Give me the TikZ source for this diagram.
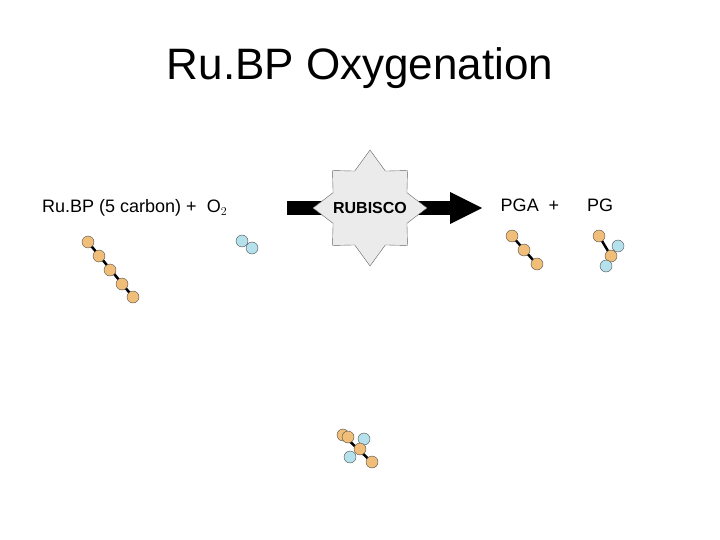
\documentclass[tikz,border=0pt]{standalone}
\usepackage{fontspec}
\setmainfont{Liberation Sans}
\usetikzlibrary{calc}
\definecolor{carb}{RGB}{240,190,120}
\definecolor{oxy}{RGB}{180,225,235}
\definecolor{starfill}{RGB}{235,235,235}
\tikzstyle{C} = [circle, draw=black!70, fill=carb, minimum size=12pt, inner sep=0pt]
\tikzstyle{O} = [circle, draw=black!70, fill=oxy, minimum size=12pt, inner sep=0pt]
\tikzstyle{bond} = [line width=2.5pt, black]
\tikzstyle{lbl} = [font=\fontsize{18}{21}\selectfont]
\begin{document}
\begin{tikzpicture}[x=1pt,y=-1pt]
	\useasboundingbox (0,0) rectangle (720,540);
	\node (title) at (360,68) {\fontsize{44}{50}\selectfont Ru.BP Oxygenation};
	\node (rubp) [lbl, anchor=west, inner sep=0pt] at (42,208) {Ru.BP (5 carbon) +\ \ O$_2$};
	\node (pga) [lbl] at (530,205) {PGA\ \ +};
	\node (pg) [lbl] at (600,205) {PG};
	% arrow with enzyme
	\fill (287,201) rectangle (450,215);
	\fill (450,192) -- (482,208) -- (450,224) -- cycle;
	\coordinate (c) at (370,208);
	\draw [black!60, fill=starfill] ($(c)+(0:57)$) -- ($(c)+(22.5:40)$) -- ($(c)+(45:53)$) -- ($(c)+(67.5:40)$)
		-- ($(c)+(90:58)$) -- ($(c)+(112.5:40)$) -- ($(c)+(135:53)$) -- ($(c)+(157.5:40)$)
		-- ($(c)+(180:57)$) -- ($(c)+(202.5:40)$) -- ($(c)+(225:53)$) -- ($(c)+(247.5:40)$)
		-- ($(c)+(270:58)$) -- ($(c)+(292.5:40)$) -- ($(c)+(315:53)$) -- ($(c)+(337.5:40)$) -- cycle;
	\node (enz) [font=\fontsize{16}{19}\selectfont\bfseries] at (c) {RUBISCO};
	% RuBP chain
	\draw [bond] (88,242) -- (133,297);
	\foreach \i/\x/\y in {1/88/242, 2/99/256, 3/110/270, 4/122/284, 5/133/297}
		\node (r\i) [C] at (\x,\y) {};
	% O2
	\node (o1) [O] at (242,241) {};
	\node (o2) [O] at (252,248) {};
	% PGA
	\draw [bond] (512,236) -- (540,268);
	\foreach \i/\x/\y in {1/512/236, 2/524/250, 3/537/264}
		\node (a\i) [C] at (\x,\y) {};
	% PG
	\draw [bond] (599,236) -- (611,256);
	\node (g1) [C] at (599,236) {};
	\node (g2) [O] at (618,246) {};
	\node (g3) [C] at (611,256) {};
	\node (g4) [O] at (606,266) {};
	% product complex
	\draw [bond] (343,435) -- (376,466);
	\node (p1) [C] at (343,435) {};
	\node (p2) [C] at (348,437) {};
	\node (p3) [O] at (364,439) {};
	\node (p4) [C] at (360,449) {};
	\node (p5) [O] at (350,457) {};
	\node (p6) [C] at (372,462) {};
\end{tikzpicture}
\end{document}
